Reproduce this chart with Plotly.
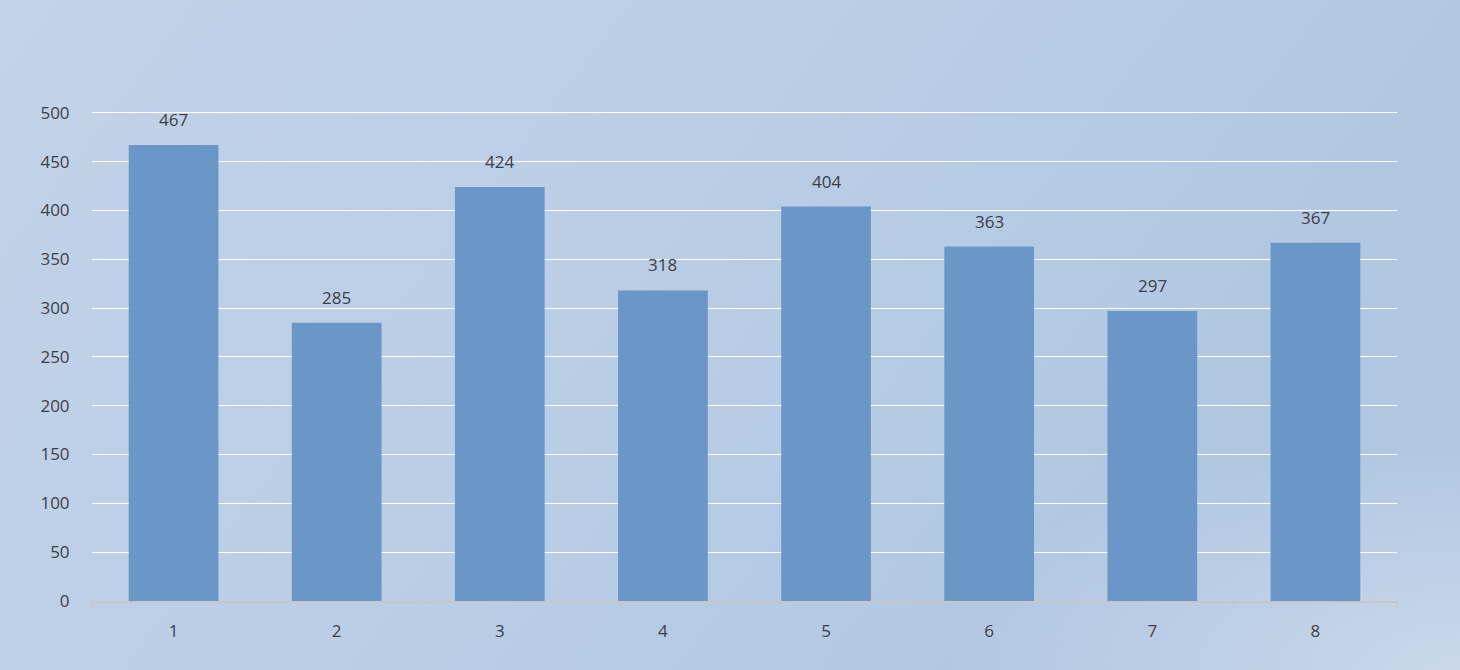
import plotly.graph_objects as go
import urllib.parse

categories = ["1", "2", "3", "4", "5", "6", "7", "8"]
values = [467, 285, 424, 318, 404, 363, 297, 367]
y_ticks = [0, 50, 100, 150, 200, 250, 300, 350, 400, 450, 500]

FONT = "Open Sans, Liberation Sans, sans-serif"
TXT = "#3b3f48"

W, H = 1460, 670
ML, MR, MT, MB = 92, 63, 103, 69
PW, PH = W - ML - MR, H - MT - MB

bg_svg = (
    "<svg xmlns='http://www.w3.org/2000/svg' width='1460' height='670' preserveAspectRatio='none'>"
    "<defs><linearGradient id='g' x1='0' y1='0' x2='1' y2='0.35'>"
    "<stop offset='0' stop-color='#c3d3e8'/>"
    "<stop offset='0.55' stop-color='#b9cde5'/>"
    "<stop offset='1' stop-color='#b0c6e1'/>"
    "</linearGradient>"
    "<radialGradient id='r' cx='1' cy='1' r='0.35'>"
    "<stop offset='0' stop-color='#cddaeb' stop-opacity='0.9'/>"
    "<stop offset='1' stop-color='#cddaeb' stop-opacity='0'/>"
    "</radialGradient></defs>"
    "<rect width='1460' height='670' fill='url(#g)'/>"
    "<rect width='1460' height='670' fill='url(#r)'/>"
    "</svg>"
)
bg_uri = "data:image/svg+xml;charset=utf-8," + urllib.parse.quote(bg_svg)

fig = go.Figure()
fig.add_trace(go.Bar(
    x=categories, y=values,
    marker=dict(color="#6b97c8", line=dict(width=0)),
    hoverinfo="x+y",
))

for i, v in enumerate(values):
    fig.add_annotation(x=i, y=v, text=str(v), showarrow=False,
                       yanchor="bottom", yshift=12,
                       font=dict(family=FONT, size=17, color=TXT))

fig.add_layout_image(
    source=bg_uri, xref="paper", yref="paper",
    x=-ML / PW, y=1 + MT / PH, sizex=W / PW, sizey=H / PH,
    xanchor="left", yanchor="top", sizing="stretch", layer="below",
)

fig.update_layout(
    width=W, height=H,
    margin=dict(l=ML, r=MR, t=MT, b=MB),
    paper_bgcolor="#bccfe6",
    plot_bgcolor="rgba(0,0,0,0)",
    bargap=0.45,
    showlegend=False,
    font=dict(family=FONT, size=17, color=TXT),
)
fig.update_yaxes(
    range=[0, 510], tickvals=y_ticks, showgrid=True,
    gridcolor="#ffffff", gridwidth=1.2, zeroline=False,
    showline=False, ticks="outside", ticklen=18, tickcolor="rgba(0,0,0,0)",
    tickfont=dict(family=FONT, size=17, color=TXT),
)
fig.update_xaxes(
    type="category", range=[-0.5, 7.5],
    showgrid=False, showline=True, linecolor="#c4c8cc", linewidth=2,
    ticks="outside", tickson="boundaries", ticklen=5, tickcolor="#c4c8cc",
    ticklabelstandoff=14,
    tickfont=dict(family=FONT, size=17, color=TXT),
)

fig.write_html("out.html", config={"displayModeBar": False},
               post_script="document.body.style.margin='0';document.body.style.padding='0';")
